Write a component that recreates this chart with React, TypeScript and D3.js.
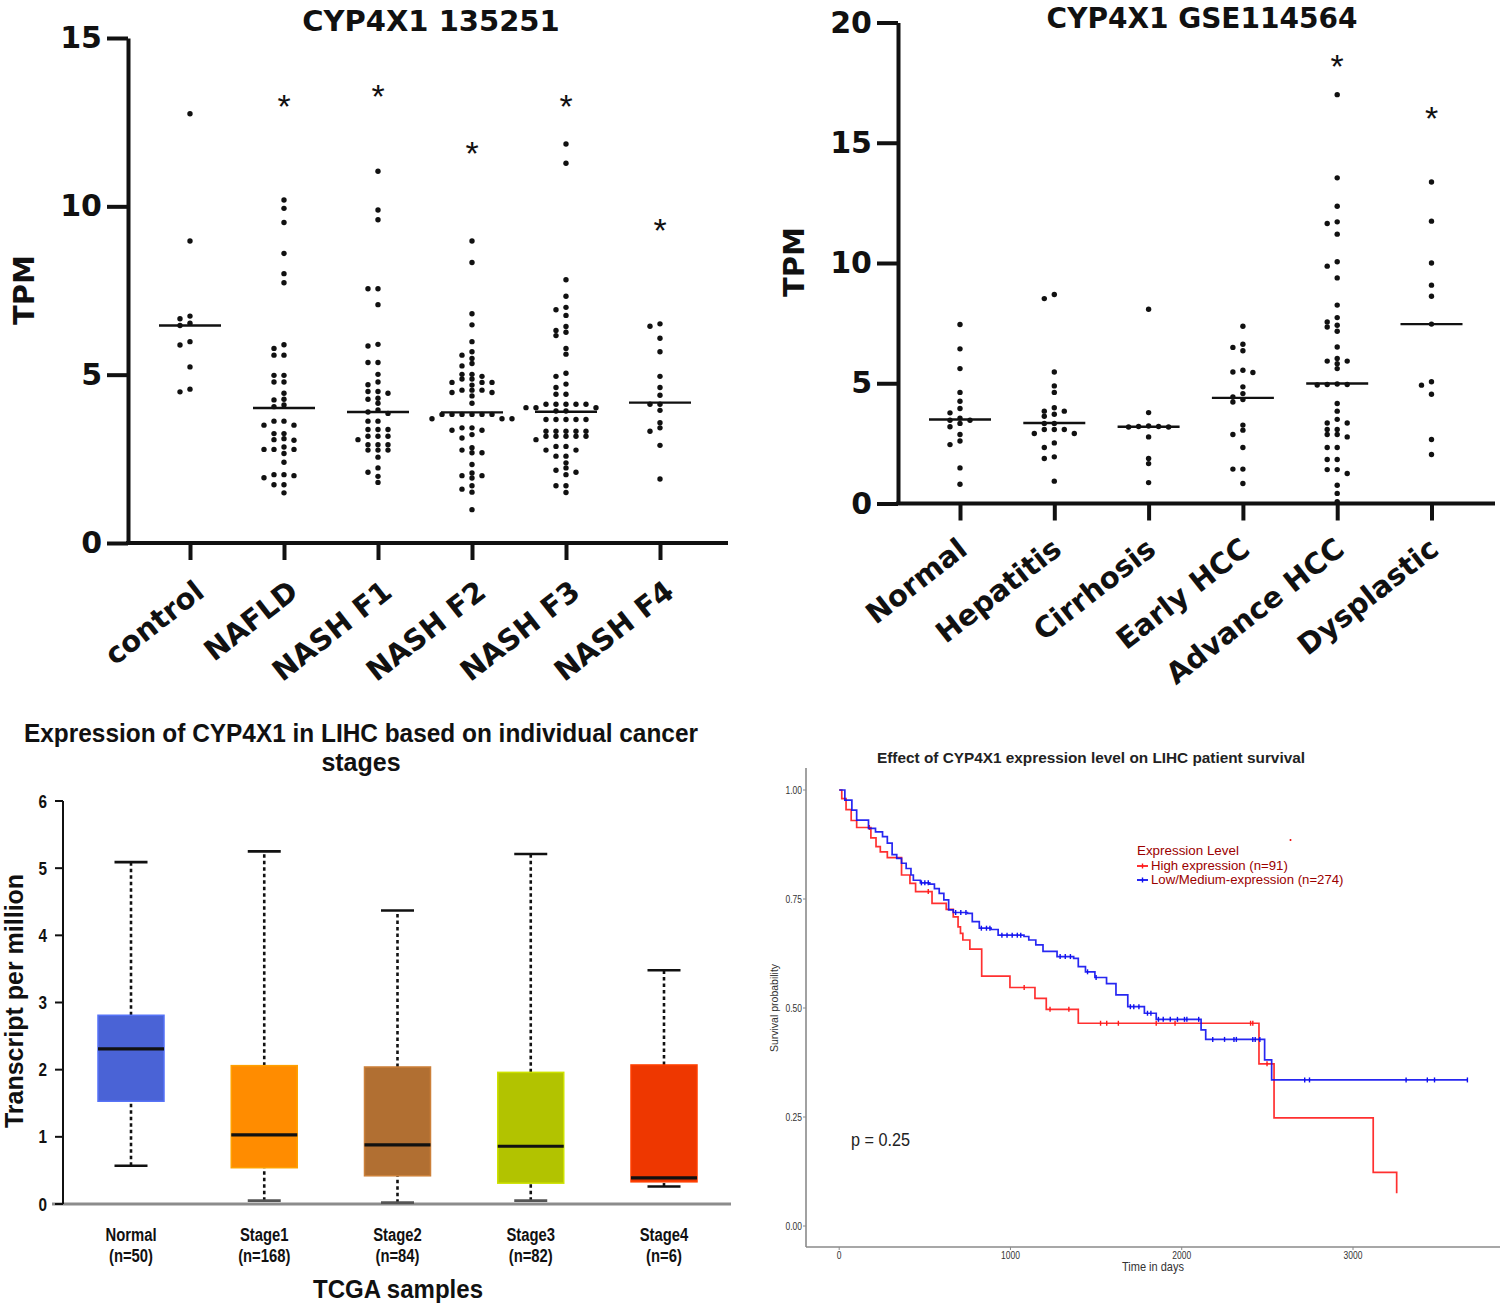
import React, { useEffect, useRef } from 'react';
import * as d3 from 'd3';

// ---------------- Panel A: CYP4X1 135251 ----------------
const aCategories = ['control', 'NAFLD', 'NASH F1', 'NASH F2', 'NASH F3', 'NASH F4'];
const aControl = [12.75, 8.97, 6.74, 6.66, 6.53, 6.46, 5.98, 5.88, 5.23, 4.49, 4.57];
const aNafld = [10.19, 9.94, 9.52, 8.6, 8.0, 7.73, 5.89, 5.78, 5.58, 5.58, 4.98, 4.98, 4.78, 4.78, 4.45, 4.27, 4.25, 4.1, 4.05, 3.62, 3.62, 3.5, 3.5, 3.25, 3.25, 3.1, 3.07, 3.05, 2.85, 2.78, 2.78, 2.78, 2.66, 2.4, 2.03, 2.03, 2.0, 1.94, 1.73, 1.73, 1.49];
const aNashF1 = [11.04, 9.89, 9.6, 7.55, 7.55, 7.08, 5.9, 5.85, 5.36, 5.36, 5.01, 4.78, 4.7, 4.5, 4.5, 4.45, 4.3, 4.27, 4.15, 3.95, 3.89, 3.85, 3.62, 3.62, 3.37, 3.37, 3.37, 3.17, 3.17, 3.17, 3.07, 2.92, 2.92, 2.92, 2.76, 2.76, 2.76, 2.55, 2.23, 2.1, 1.98, 1.8];
const aNashF2 = [8.97, 8.33, 6.81, 6.48, 5.98, 5.68, 5.58, 5.48, 5.33, 5.26, 5.01, 5.01, 4.95, 4.87, 4.87, 4.77, 4.77, 4.77, 4.69, 4.54, 4.54, 4.54, 4.47, 4.47, 4.37, 4.15, 3.82, 3.82, 3.82, 3.82, 3.82, 3.82, 3.69, 3.69, 3.69, 3.42, 3.42, 3.35, 3.35, 3.22, 3.12, 2.83, 2.76, 2.68, 2.68, 2.33, 2.08, 2.0, 2.0, 1.93, 1.7, 1.6, 1.51, 0.99];
const aNashF3 = [11.85, 11.28, 7.82, 7.33, 7.0, 6.93, 6.76, 6.43, 6.31, 6.26, 6.16, 5.78, 5.61, 5.04, 4.95, 4.72, 4.62, 4.42, 4.42, 4.12, 4.12, 4.12, 4.12, 4.12, 4.02, 4.02, 4.02, 3.92, 3.92, 3.67, 3.67, 3.67, 3.67, 3.67, 3.32, 3.32, 3.32, 3.32, 3.32, 3.17, 3.17, 3.17, 3.17, 3.17, 3.07, 2.87, 2.87, 2.76, 2.76, 2.58, 2.58, 2.38, 2.23, 2.16, 2.1, 2.03, 1.7, 1.7, 1.5];
const aNashF4 = [6.51, 6.44, 6.08, 5.68, 4.95, 4.62, 4.39, 4.12, 4.12, 3.94, 3.57, 3.42, 3.32, 2.9, 1.9];
const aMedians = [6.46, 4.01, 3.89, 3.88, 3.9, 4.17];
const aStars: (number | null)[] = [null, 13.2, 13.5, 11.8, 13.2, 9.5];
const aTicks = [0, 5, 10, 15];

// ---------------- Panel B: CYP4X1 GSE114564 ----------------
const bCategories = ['Normal', 'Hepatitis', 'Cirrhosis', 'Early HCC', 'Advance HCC', 'Dysplastic'];
const bNormal = [7.44, 6.43, 5.61, 4.62, 4.25, 3.95, 3.77, 3.55, 3.46, 3.46, 3.33, 3.19, 2.87, 2.6, 2.45, 1.48, 0.8];
const bHepatitis = [8.69, 8.52, 5.47, 4.89, 4.62, 3.98, 3.84, 3.84, 3.71, 3.63, 3.33, 3.33, 3.08, 3.08, 3.08, 2.91, 2.91, 2.52, 2.33, 1.94, 1.87, 0.93];
const bCirrhosis = [8.08, 3.78, 3.22, 3.2, 3.2, 3.18, 3.18, 2.77, 1.87, 1.66, 0.87];
const bEarly = [7.37, 6.62, 6.49, 6.35, 5.54, 5.45, 5.47, 4.85, 4.57, 4.43, 4.32, 4.22, 3.26, 3.05, 2.87, 2.33, 1.43, 1.43, 0.83];
const bAdvance = [17.0, 13.54, 12.36, 11.71, 11.64, 11.2, 10.05, 9.87, 9.38, 8.25, 7.73, 7.55, 7.41, 7.34, 7.16, 6.51, 6.03, 5.92, 5.92, 5.81, 5.61, 4.97, 4.95, 4.95, 4.93, 4.16, 3.84, 3.5, 3.35, 3.35, 3.08, 3.08, 2.87, 2.87, 2.77, 2.33, 2.33, 1.83, 1.83, 1.41, 1.41, 1.25, 0.76, 0.42, 0.07];
const bDysplastic = [13.37, 11.74, 10.0, 9.08, 8.62, 7.46, 5.06, 4.92, 4.54, 2.66, 2.04];
const bMedians = [3.49, 3.35, 3.19, 4.39, 4.99, 7.46];
const bStars: (number | null)[] = [null, null, null, null, 18.5, 16.3];
const bTicks = [0, 5, 10, 15, 20];

// ---------------- Panel C: boxplot by stage ----------------
const cCategories = ['Normal', 'Stage1', 'Stage2', 'Stage3', 'Stage4'];
const cCounts = ['(n=50)', '(n=168)', '(n=84)', '(n=82)', '(n=6)'];
const cMin = [0.57, 0.05, 0.02, 0.05, 0.26];
const cQ1 = [1.53, 0.54, 0.42, 0.31, 0.33];
const cMedian = [2.31, 1.03, 0.88, 0.86, 0.39];
const cQ3 = [2.81, 2.06, 2.04, 1.96, 2.07];
const cMax = [5.09, 5.25, 4.37, 5.21, 3.48];
const cColors = ['#4a63d6', '#ff8c00', '#b16f32', '#b2c300', '#ee3700'];
const cTicks = [0, 1, 2, 3, 4, 5, 6];

// ---------------- Panel D: Kaplan-Meier ----------------
const highTimes = [0, 15, 40, 70, 102, 185, 215, 240, 281, 364, 413, 446, 542, 625, 666, 694, 708, 722, 763, 832, 997, 1143, 1209, 1396, 2451, 2539, 3118, 3255];
const highSurv = [1.0, 0.98, 0.955, 0.93, 0.914, 0.89, 0.87, 0.858, 0.845, 0.805, 0.786, 0.767, 0.74, 0.726, 0.709, 0.686, 0.671, 0.656, 0.635, 0.573, 0.547, 0.522, 0.497, 0.465, 0.372, 0.248, 0.123, 0.075];
const highCensor = [176, 520, 1080, 1231, 1341, 1526, 1562, 1630, 1851, 1961, 2402, 2415, 2498];
const lowTimes = [0, 33, 74, 102, 171, 212, 253, 281, 309, 336, 364, 391, 419, 433, 474, 529, 556, 584, 611, 639, 666, 749, 777, 818, 887, 928, 1079, 1107, 1148, 1190, 1272, 1369, 1396, 1438, 1493, 1561, 1616, 1685, 1782, 1851, 2113, 2140, 2484, 2525, 3668];
const lowSurv = [1.0, 0.977, 0.954, 0.931, 0.912, 0.904, 0.893, 0.878, 0.852, 0.843, 0.832, 0.82, 0.805, 0.793, 0.787, 0.784, 0.774, 0.763, 0.748, 0.725, 0.719, 0.717, 0.698, 0.683, 0.68, 0.667, 0.664, 0.656, 0.645, 0.63, 0.618, 0.614, 0.595, 0.583, 0.57, 0.556, 0.53, 0.503, 0.488, 0.474, 0.45, 0.428, 0.381, 0.335, 0.335];
const lowCensor = [480, 500, 520, 680, 710, 740, 830, 860, 880, 950, 980, 1010, 1040, 1060, 1290, 1320, 1350, 1450, 1500, 1700, 1720, 1750, 1800, 1820, 1864, 1892, 1933, 1975, 2016, 2030, 2099, 2181, 2250, 2305, 2319, 2415, 2429, 2456, 2718, 2746, 3310, 3434, 3476, 3668];
const kmXTicks = [0, 1000, 2000, 3000];
const kmYTicks = [0, 0.25, 0.5, 0.75, 1.0];
const kmLegend = ['High expression (n=91)', 'Low/Medium-expression (n=274)'];

const BOLD = "'DejaVu Sans', sans-serif";
const ARIAL = "'Liberation Sans', Arial, sans-serif";

type Sel = d3.Selection<SVGSVGElement, unknown, null, undefined>;

function swarm(values: number[], y: (v: number) => number, step: number, minDy: number) {
  const idx = values.map((_, i) => i).sort((a, b) => values[b] - values[a]);
  const placed: { x: number; y: number }[] = [];
  const out: number[] = new Array(values.length).fill(0);
  for (const i of idx) {
    const py = y(values[i]);
    for (let k = 0; k < 60; k++) {
      const off = k === 0 ? 0 : (k % 2 === 1 ? -1 : 1) * Math.ceil(k / 2) * step;
      if (!placed.some(p => Math.abs(p.x - off) < step * 0.9 && Math.abs(p.y - py) < minDy)) {
        placed.push({ x: off, y: py });
        out[i] = off;
        break;
      }
    }
  }
  return out;
}

interface DotOpts {
  categories: string[];
  groups: number[][];
  medians: number[];
  stars: (number | null)[];
  yMax: number;
  yRange: [number, number];
  xRange: [number, number];
  axisX: number;
  xAxisEnd: number;
  ticks: number[];
  title: string;
  titleX: number;
  titleY: number;
  titleSize: number;
  tpmX: number;
  tpmY: number;
  labelDx: number;
  labelDy: number;
}

function drawDotPanel(svg: Sel, o: DotOpts) {
  const y = d3.scaleLinear().domain([0, o.yMax]).range(o.yRange);
  const x = d3.scalePoint<string>().domain(o.categories).range(o.xRange);
  const g = svg.append('g');
  const ink = '#111';

  const ya = g.append('g').attr('transform', `translate(${o.axisX},0)`)
    .call(d3.axisLeft(y).tickValues(o.ticks).tickSize(21).tickSizeOuter(0).tickPadding(5).tickFormat(d3.format('d')));
  ya.select('.domain').attr('stroke', ink).attr('stroke-width', 4);
  ya.selectAll('.tick line').attr('stroke', ink).attr('stroke-width', 4);
  ya.selectAll('.tick text').attr('font-family', BOLD).attr('font-weight', 'bold')
    .attr('font-size', 30).attr('fill', ink);

  g.append('line').attr('x1', o.axisX - 2).attr('x2', o.xAxisEnd)
    .attr('y1', y(0)).attr('y2', y(0)).attr('stroke', ink).attr('stroke-width', 4);
  const xa = g.append('g').attr('transform', `translate(0,${y(0)})`)
    .call(d3.axisBottom(x).tickSize(17).tickSizeOuter(0));
  xa.select('.domain').remove();
  xa.selectAll('.tick line').attr('stroke', ink).attr('stroke-width', 4);
  xa.selectAll('.tick text').remove();

  g.selectAll('text.cat').data(o.categories).join('text').attr('class', 'cat')
    .attr('transform', d => `translate(${(x(d) as number) + o.labelDx},${y(0) + o.labelDy}) rotate(-38)`)
    .attr('text-anchor', 'end').attr('font-family', BOLD).attr('font-weight', 'bold')
    .attr('font-size', 29).attr('fill', ink).text(d => d);

  o.groups.forEach((vals, i) => {
    const cx = x(o.categories[i]) as number;
    const offs = swarm(vals, y, 10, 4.6);
    g.append('g').selectAll('circle').data(vals).join('circle')
      .attr('cx', (_, j) => cx + offs[j]).attr('cy', d => y(d)).attr('r', 2.7).attr('fill', ink);
    g.append('line').attr('x1', cx - 31).attr('x2', cx + 31)
      .attr('y1', y(o.medians[i])).attr('y2', y(o.medians[i]))
      .attr('stroke', ink).attr('stroke-width', 2.4);
    const s = o.stars[i];
    if (s !== null) {
      g.append('text').attr('x', cx).attr('y', y(s) + 19).attr('text-anchor', 'middle')
        .attr('font-family', ARIAL).attr('font-size', 34).attr('fill', ink).text('*');
    }
  });

  g.append('text').attr('x', o.titleX).attr('y', o.titleY).attr('text-anchor', 'middle')
    .attr('font-family', BOLD).attr('font-weight', 'bold').attr('font-size', o.titleSize).attr('fill', ink).text(o.title);
  g.append('text').attr('transform', `translate(${o.tpmX},${o.tpmY}) rotate(-90)`).attr('text-anchor', 'middle')
    .attr('font-family', BOLD).attr('font-weight', 'bold').attr('font-size', 29).attr('fill', ink).text('TPM');
}

function narrowText(g: d3.Selection<SVGGElement, unknown, null, undefined>, x: number, y: number, s: string,
  size: number, weight: string, anchor: string, fill: string, sx = 0.84) {
  g.append('text').attr('transform', `translate(${x},${y}) scale(${sx},1)`).attr('text-anchor', anchor)
    .attr('font-family', ARIAL).attr('font-weight', weight).attr('font-size', size).attr('fill', fill).text(s);
}

function drawBoxPanel(svg: Sel) {
  const y = d3.scaleLinear().domain([0, 6]).range([1204, 801]);
  const x = d3.scalePoint<string>().domain(cCategories).range([131, 664]);
  const g = svg.append('g');
  const bw = 66;
  const cap = 33;

  g.append('line').attr('x1', 52).attr('x2', 731).attr('y1', y(0)).attr('y2', y(0))
    .attr('stroke', '#8c8c8c').attr('stroke-width', 3);

  cCategories.forEach((c, i) => {
    const cx = x(c) as number;
    const dashed = (a: number, b: number) => g.append('line').attr('x1', cx).attr('x2', cx)
      .attr('y1', y(a)).attr('y2', y(b)).attr('stroke', '#111').attr('stroke-width', 2.6)
      .attr('stroke-dasharray', '3.5,3');
    dashed(cQ3[i], cMax[i]);
    dashed(cMin[i], cQ1[i]);
    [cMax[i], cMin[i]].forEach(v => g.append('line').attr('x1', cx - cap / 2).attr('x2', cx + cap / 2)
      .attr('y1', y(v)).attr('y2', y(v)).attr('stroke', v < 0.1 ? '#555' : '#111').attr('stroke-width', 2.6));
    const col = d3.color(cColors[i])!;
    g.append('rect').attr('x', cx - bw / 2).attr('width', bw)
      .attr('y', y(cQ3[i])).attr('height', y(cQ1[i]) - y(cQ3[i]))
      .attr('fill', cColors[i]).attr('stroke', col.brighter(0.4).toString()).attr('stroke-width', 1.5);
    g.append('line').attr('x1', cx - bw / 2).attr('x2', cx + bw / 2)
      .attr('y1', y(cMedian[i])).attr('y2', y(cMedian[i])).attr('stroke', '#111').attr('stroke-width', 3.2);
    narrowText(g, cx, 1241, c, 19, 'bold', 'middle', '#111', 0.78);
    narrowText(g, cx, 1262, cCounts[i], 19, 'bold', 'middle', '#111', 0.78);
  });

  g.append('line').attr('x1', 63).attr('x2', 63).attr('y1', y(6)).attr('y2', y(0))
    .attr('stroke', '#111').attr('stroke-width', 2);
  cTicks.forEach(t => {
    g.append('line').attr('x1', 55).attr('x2', 63).attr('y1', y(t)).attr('y2', y(t))
      .attr('stroke', '#111').attr('stroke-width', 2);
    narrowText(g, 47, y(t) + 6.5, String(t), 18, 'bold', 'end', '#111', 0.85);
  });

  g.append('text').attr('x', 361).attr('y', 742).attr('text-anchor', 'middle')
    .attr('font-family', ARIAL).attr('font-weight', 'bold').attr('font-size', 25).attr('fill', '#111')
    .attr('textLength', 674).attr('lengthAdjust', 'spacingAndGlyphs')
    .text('Expression of CYP4X1 in LIHC based on individual cancer');
  g.append('text').attr('x', 361).attr('y', 771).attr('text-anchor', 'middle')
    .attr('font-family', ARIAL).attr('font-weight', 'bold').attr('font-size', 25).attr('fill', '#111')
    .text('stages');
  g.append('text').attr('transform', 'translate(23,1001) rotate(-90)').attr('text-anchor', 'middle')
    .attr('font-family', ARIAL).attr('font-weight', 'bold').attr('font-size', 25).attr('fill', '#111')
    .text('Transcript per million');
  g.append('text').attr('x', 398).attr('y', 1298).attr('text-anchor', 'middle')
    .attr('font-family', ARIAL).attr('font-weight', 'bold').attr('font-size', 25).attr('fill', '#111')
    .attr('textLength', 170).attr('lengthAdjust', 'spacingAndGlyphs')
    .text('TCGA samples');
}

function drawKM(svg: Sel) {
  const x = d3.scaleLinear().domain([0, 3000]).range([839.2, 1353]);
  const y = d3.scaleLinear().domain([0, 1]).range([1226, 790]);
  const g = svg.append('g');
  const axisCol = '#8a8a8a';
  const txt = '#333';

  g.append('line').attr('x1', 806).attr('x2', 806).attr('y1', 768).attr('y2', 1247)
    .attr('stroke', axisCol).attr('stroke-width', 1.6);
  g.append('line').attr('x1', 806).attr('x2', 1500).attr('y1', 1247).attr('y2', 1247)
    .attr('stroke', axisCol).attr('stroke-width', 1.6);
  kmYTicks.forEach(t => {
    g.append('line').attr('x1', 803).attr('x2', 806).attr('y1', y(t)).attr('y2', y(t)).attr('stroke', axisCol);
    narrowText(g, 802, y(t) + 3.5, d3.format('.2f')(t), 10, 'normal', 'end', txt, 0.85);
  });
  kmXTicks.forEach(t => {
    g.append('line').attr('x1', x(t)).attr('x2', x(t)).attr('y1', 1247).attr('y2', 1250).attr('stroke', axisCol);
    narrowText(g, x(t), 1259, String(t), 10, 'normal', 'middle', txt, 0.85);
  });

  const curves = [
    { times: highTimes, surv: highSurv, censor: highCensor, color: '#ff1a1a' },
    { times: lowTimes, surv: lowSurv, censor: lowCensor, color: '#1010f0' },
  ];
  const line = d3.line<[number, number]>().x(d => x(d[0])).y(d => y(d[1])).curve(d3.curveStepAfter);
  curves.forEach(c => {
    const pts = c.times.map((t, i) => [t, c.surv[i]] as [number, number]);
    g.append('path').attr('d', line(pts)!).attr('fill', 'none').attr('stroke', c.color)
      .attr('stroke-width', 1.7).attr('stroke-opacity', 0.9);
    const bis = d3.bisector((d: number) => d).right;
    c.censor.forEach(t => {
      const k = Math.max(0, bis(c.times, t) - 1);
      const yy = y(c.surv[k]);
      g.append('line').attr('x1', x(t)).attr('x2', x(t)).attr('y1', yy - 2.5).attr('y2', yy + 2.5)
        .attr('stroke', c.color).attr('stroke-width', 1.4);
    });
  });

  g.append('text').attr('x', 1091).attr('y', 763).attr('text-anchor', 'middle')
    .attr('font-family', ARIAL).attr('font-weight', 'bold').attr('font-size', 14).attr('fill', '#222')
    .attr('textLength', 428).attr('lengthAdjust', 'spacingAndGlyphs')
    .text('Effect of CYP4X1 expression level on LIHC patient survival');
  g.append('text').attr('transform', 'translate(778,1008) rotate(-90)').attr('text-anchor', 'middle')
    .attr('font-family', ARIAL).attr('font-size', 10.5).attr('fill', txt).text('Survival probability');
  narrowText(g, 1153, 1271, 'Time in days', 12.5, 'normal', 'middle', txt, 0.88);
  narrowText(g, 851, 1146, 'p = 0.25', 18, 'normal', 'start', '#222', 0.9);

  const legCol = '#9b0000';
  narrowText(g, 1137, 855, 'Expression Level', 13, 'normal', 'start', legCol, 1.03);
  kmLegend.forEach((lab, i) => {
    const ly = 866 + i * 14;
    const col = curves[i].color;
    g.append('line').attr('x1', 1137).attr('x2', 1148).attr('y1', ly).attr('y2', ly).attr('stroke', col).attr('stroke-width', 1.8);
    g.append('line').attr('x1', 1142.5).attr('x2', 1142.5).attr('y1', ly - 2.5).attr('y2', ly + 2.5).attr('stroke', col).attr('stroke-width', 1.4);
    narrowText(g, 1151, ly + 4.3, lab, 12, 'normal', 'start', legCol, 1.1);
  });
  g.append('circle').attr('cx', 1290.5).attr('cy', 840).attr('r', 1).attr('fill', '#e00');
}

export default function App() {
  const ref = useRef<SVGSVGElement>(null);
  useEffect(() => {
    if (!ref.current) return;
    const svg = d3.select(ref.current) as Sel;
    svg.selectAll('*').remove();
    svg.append('rect').attr('width', 1500).attr('height', 1304).attr('fill', '#fff');
    drawDotPanel(svg, {
      categories: aCategories,
      groups: [aControl, aNafld, aNashF1, aNashF2, aNashF3, aNashF4],
      medians: aMedians, stars: aStars, yMax: 15, yRange: [543, 38], xRange: [190, 660],
      axisX: 128, xAxisEnd: 728, ticks: aTicks, title: 'CYP4X1 135251', titleX: 431, titleY: 31, titleSize: 29,
      tpmX: 34, tpmY: 290, labelDx: 16, labelDy: 52,
    });
    drawDotPanel(svg, {
      categories: bCategories,
      groups: [bNormal, bHepatitis, bCirrhosis, bEarly, bAdvance, bDysplastic],
      medians: bMedians, stars: bStars, yMax: 20, yRange: [503.5, 22.5], xRange: [960, 1431.5],
      axisX: 898, xAxisEnd: 1495, ticks: bTicks, title: 'CYP4X1 GSE114564', titleX: 1202, titleY: 28, titleSize: 28,
      tpmX: 804, tpmY: 262, labelDx: 9, labelDy: 49,
    });
    drawBoxPanel(svg);
    drawKM(svg);
  }, []);
  return (
    <svg ref={ref} width={1500} height={1304}
      style={{ position: 'absolute', left: 0, top: 0, display: 'block' }} />
  );
}
